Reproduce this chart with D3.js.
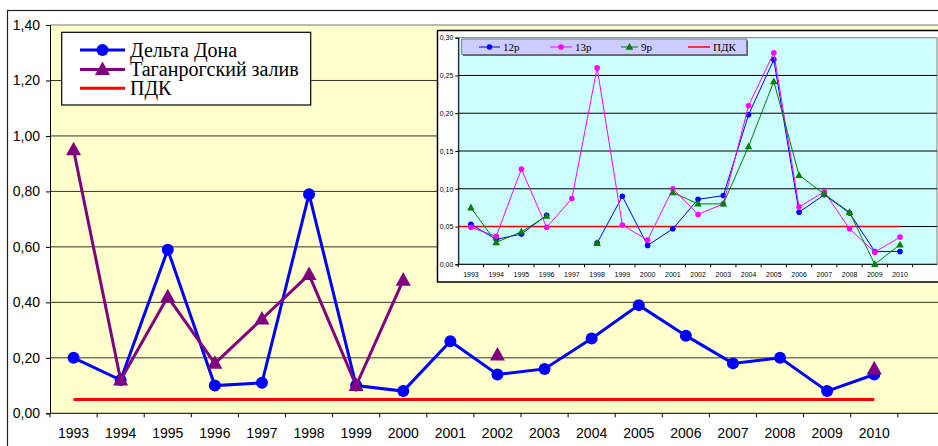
<!DOCTYPE html>
<html>
<head>
<meta charset="utf-8">
<script src="https://cdn.jsdelivr.net/npm/d3@7"></script>
<style>
  html, body { margin: 0; padding: 0; background: #fff; }
  svg { display: block; }
</style>
</head>
<body>
<svg id="chart" width="938" height="446"></svg>
<script>
// ---- data ----
const years = ["1993","1994","1995","1996","1997","1998","1999","2000","2001",
               "2002","2003","2004","2005","2006","2007","2008","2009","2010"];

// main chart
const deltaDona = [0.20, 0.12, 0.59, 0.10, 0.11, 0.79, 0.10, 0.08, 0.26,
                   0.14, 0.16, 0.27, 0.39, 0.28, 0.18, 0.20, 0.08, 0.14];
const taganrog  = [0.95, 0.12, 0.42, 0.18, 0.34, 0.50, 0.10, 0.48, null,
                   0.21, null, null, null, null, null, null, null, 0.16];
const pdkMain = 0.05;
const mainTicks = [0, 0.2, 0.4, 0.6, 0.8, 1.0, 1.2, 1.4];
const mainLegend = ["Дельта Дона", "Таганрогский залив", "ПДК"];

// inset chart
const s12 = [0.053, 0.033, 0.040, 0.065, null, 0.028, 0.090, 0.025, 0.047,
             0.086, 0.091, 0.198, 0.271, 0.069, 0.092, 0.068, 0.017, 0.017];
const s13 = [0.049, 0.037, 0.126, 0.049, 0.087, 0.260, 0.052, 0.032, 0.100,
             0.066, 0.080, 0.210, 0.280, 0.076, 0.096, 0.047, 0.016, 0.036];
const s9  = [0.075, 0.029, 0.043, 0.064, null, 0.028, null, null, 0.095,
             0.080, 0.080, 0.156, 0.242, 0.118, 0.093, 0.069, 0.000, 0.026];
const pdkInset = 0.05;
const insetTicks = [0, 0.05, 0.10, 0.15, 0.20, 0.25, 0.30];
const insetLegend = ["12р", "13р", "9р", "ПДК"];

const SANS = "Liberation Sans";
const SERIF = "Liberation Serif";
const fmt2 = v => v.toFixed(2).replace(".", ",");

const svg = d3.select("#chart");

// ---- outer frame ----
svg.append("rect").attr("x", 7.5).attr("y", 10.5).attr("width", 960).attr("height", 460)
  .attr("fill", "#fff").attr("stroke", "#222").attr("stroke-width", 1.2);

// ---- main chart ----
const M = { left: 50, top: 25, bottom: 413.3, band: 47.1 };
const x = d3.scaleBand().domain(years).range([M.left, M.left + years.length * M.band]);
const y = d3.scaleLinear().domain([0, 1.4]).range([M.bottom, M.top]);
const cx = d => x(d) + x.bandwidth() / 2;

const main = svg.append("g");
main.append("rect").attr("x", M.left).attr("y", M.top)
  .attr("width", 960 - M.left).attr("height", M.bottom - M.top)
  .attr("fill", "#ffffcc");

// gridlines
main.append("g").selectAll("line").data(mainTicks.slice(1)).join("line")
  .attr("x1", M.left).attr("x2", 960)
  .attr("y1", d => y(d)).attr("y2", d => y(d))
  .attr("stroke", d => d === 1.4 ? "#777" : "#333").attr("stroke-width", 1);

// y axis
const yAxis = d3.axisLeft(y).tickValues(mainTicks).tickFormat(fmt2).tickSize(4).tickPadding(6);
main.append("g").attr("transform", `translate(${M.left},0)`).call(yAxis)
  .attr("font-family", SANS)
  .call(g => g.select(".domain").attr("stroke", "#000"))
  .call(g => g.selectAll("text").attr("font-family", SANS)
    .attr("font-size", 14).attr("fill", "#000"));

// x axis: labels centred in categories, ticks on category boundaries
const xAxis = d3.axisBottom(x).tickSize(0).tickPadding(15);
main.append("g").attr("transform", `translate(0,${M.bottom})`).call(xAxis)
  .attr("font-family", SANS)
  .call(g => g.select(".domain").remove())
  .call(g => g.selectAll("text").attr("font-family", SANS)
    .attr("font-size", 14).attr("fill", "#000"));
main.append("line").attr("x1", M.left).attr("x2", 960)
  .attr("y1", M.bottom).attr("y2", M.bottom).attr("stroke", "#000");
const bounds = years.map(d => x(d)).concat([x.range()[1]]);
main.append("g").selectAll("line").data(bounds).join("line")
  .attr("x1", d => d).attr("x2", d => d)
  .attr("y1", M.bottom).attr("y2", M.bottom + 4).attr("stroke", "#000");

// ПДК line
main.append("line")
  .attr("x1", cx(years[0])).attr("x2", cx(years[years.length - 1]))
  .attr("y1", y(pdkMain)).attr("y2", y(pdkMain))
  .attr("stroke", "#ff0000").attr("stroke-width", 3);

const mainLine = d3.line()
  .defined(d => d.v !== null)
  .x(d => cx(d.year)).y(d => y(d.v));
const pts = arr => years.map((yr, i) => ({ year: yr, v: arr[i] }));

const triPath = s => `M0,${-s * 0.62}L${s * 0.58},${s * 0.42}L${-s * 0.58},${s * 0.42}Z`;

// Дельта Дона
main.append("path").datum(pts(deltaDona)).attr("d", mainLine)
  .attr("fill", "none").attr("stroke", "#0000ff").attr("stroke-width", 3);
main.append("g").selectAll("circle").data(pts(deltaDona).filter(d => d.v !== null)).join("circle")
  .attr("cx", d => cx(d.year)).attr("cy", d => y(d.v)).attr("r", 6).attr("fill", "#0000ff");

// Таганрогский залив
main.append("path").datum(pts(taganrog)).attr("d", mainLine)
  .attr("fill", "none").attr("stroke", "#800080").attr("stroke-width", 3);
main.append("g").selectAll("path").data(pts(taganrog).filter(d => d.v !== null)).join("path")
  .attr("transform", d => `translate(${cx(d.year)},${y(d.v)})`)
  .attr("d", triPath(13)).attr("fill", "#800080");

// main legend
const lg = main.append("g");
lg.append("rect").attr("x", 61.7).attr("y", 32.3).attr("width", 249).attr("height", 72.7)
  .attr("fill", "#fff").attr("stroke", "#000").attr("stroke-width", 1.2);
const lgRows = [50, 69.5, 88.3];
const lgColors = ["#0000ff", "#800080", "#ff0000"];
mainLegend.forEach((name, i) => {
  lg.append("line").attr("x1", 80).attr("x2", 125).attr("y1", lgRows[i]).attr("y2", lgRows[i])
    .attr("stroke", lgColors[i]).attr("stroke-width", 3);
  if (i === 0) lg.append("circle").attr("cx", 102.5).attr("cy", lgRows[i]).attr("r", 6).attr("fill", lgColors[i]);
  if (i === 1) lg.append("path").attr("transform", `translate(102.5,${lgRows[i]})`).attr("d", triPath(13)).attr("fill", lgColors[i]);
  lg.append("text").attr("x", 130).attr("y", lgRows[i] + 6.5)
    .attr("font-family", SERIF).attr("font-size", 20)
    .attr("fill", "#000").text(name);
});

// ---- inset chart ----
const I = { left: 458.3, top: 37.7, bottom: 264.3, band: 25.24 };
const xi = d3.scaleBand().domain(years).range([I.left, I.left + years.length * I.band]);
const yi = d3.scaleLinear().domain([0, 0.3]).range([I.bottom, I.top]);
const cxi = d => xi(d) + xi.bandwidth() / 2;

const inset = svg.append("g");
inset.append("rect").attr("x", 437.5).attr("y", 30.5).attr("width", 520).attr("height", 251.5)
  .attr("fill", "#fff").attr("stroke", "#000").attr("stroke-width", 1.5);
inset.append("rect").attr("x", I.left).attr("y", I.top)
  .attr("width", 937 - I.left).attr("height", I.bottom - I.top)
  .attr("fill", "#ccffff").attr("stroke", "#808080").attr("stroke-width", 1);

inset.append("g").selectAll("line").data(insetTicks.slice(1, -1)).join("line")
  .attr("x1", I.left).attr("x2", 937)
  .attr("y1", d => yi(d)).attr("y2", d => yi(d))
  .attr("stroke", "#000").attr("stroke-width", 1);

const yAxisI = d3.axisLeft(yi).tickValues(insetTicks).tickFormat(fmt2).tickSize(3).tickPadding(2);
inset.append("g").attr("transform", `translate(${I.left},0)`).call(yAxisI)
  .attr("font-family", SANS)
  .call(g => g.select(".domain").attr("stroke", "#000"))
  .call(g => g.selectAll("text").attr("font-family", SANS)
    .attr("font-size", 7).attr("fill", "#000"));

const xAxisI = d3.axisBottom(xi).tickSize(0).tickPadding(8);
inset.append("g").attr("transform", `translate(0,${I.bottom})`).call(xAxisI)
  .attr("font-family", SANS)
  .call(g => g.select(".domain").remove())
  .call(g => g.selectAll("text").attr("font-family", SANS)
    .attr("font-size", 7).attr("fill", "#000"));
inset.append("line").attr("x1", I.left).attr("x2", 937)
  .attr("y1", I.bottom).attr("y2", I.bottom).attr("stroke", "#000");
const boundsI = years.map(d => xi(d)).concat([xi.range()[1]]);
inset.append("g").selectAll("line").data(boundsI).join("line")
  .attr("x1", d => d).attr("x2", d => d)
  .attr("y1", I.bottom).attr("y2", I.bottom + 3).attr("stroke", "#000");

// inset ПДК
inset.append("line")
  .attr("x1", I.left).attr("x2", cxi(years[years.length - 1]))
  .attr("y1", yi(pdkInset)).attr("y2", yi(pdkInset))
  .attr("stroke", "#ff0000").attr("stroke-width", 1.5);

const insetLine = d3.line()
  .defined(d => d.v !== null)
  .x(d => cxi(d.year)).y(d => yi(d.v));

function insetSeries(arr, color, marker) {
  inset.append("path").datum(pts(arr)).attr("d", insetLine)
    .attr("fill", "none").attr("stroke", color).attr("stroke-width", 1);
  const data = pts(arr).filter(d => d.v !== null);
  if (marker === "circle") {
    inset.append("g").selectAll("circle").data(data).join("circle")
      .attr("cx", d => cxi(d.year)).attr("cy", d => yi(d.v)).attr("r", 2.8).attr("fill", color);
  } else {
    inset.append("g").selectAll("path").data(data).join("path")
      .attr("transform", d => `translate(${cxi(d.year)},${yi(d.v)})`)
      .attr("d", triPath(6.5)).attr("fill", color);
  }
}
insetSeries(s12, "#0000ff", "circle");
insetSeries(s13, "#ff00ff", "circle");
insetSeries(s9, "#008000", "triangle");

// inset legend
const il = inset.append("g");
il.append("rect").attr("x", 463).attr("y", 40.5).attr("width", 285).attr("height", 15.5).attr("fill", "#666");
il.append("rect").attr("x", 461.7).attr("y", 39).attr("width", 285).attr("height", 15.5)
  .attr("fill", "#ccccff").attr("stroke", "#666").attr("stroke-width", 0.8);
const ilItems = [
  { x1: 479, x2: 500, tx: 503, color: "#0000ff", marker: "circle" },
  { x1: 550, x2: 572, tx: 575, color: "#ff00ff", marker: "circle" },
  { x1: 621, x2: 638, tx: 641, color: "#008000", marker: "triangle" },
  { x1: 688, x2: 710, tx: 713, color: "#ff0000", marker: null }
];
const ilY = 47;
insetLegend.forEach((name, i) => {
  const it = ilItems[i];
  il.append("line").attr("x1", it.x1).attr("x2", it.x2).attr("y1", ilY).attr("y2", ilY)
    .attr("stroke", it.color).attr("stroke-width", it.marker ? 1 : 1.5);
  const mx = (it.x1 + it.x2) / 2;
  if (it.marker === "circle") il.append("circle").attr("cx", mx).attr("cy", ilY).attr("r", 2.8).attr("fill", it.color);
  if (it.marker === "triangle") il.append("path").attr("transform", `translate(${mx},${ilY})`).attr("d", triPath(6.5)).attr("fill", it.color);
  il.append("text").attr("x", it.tx).attr("y", ilY + 3.8)
    .attr("font-family", SERIF).attr("font-size", 11)
    .attr("fill", "#000").text(name);
});
</script>
</body>
</html>
